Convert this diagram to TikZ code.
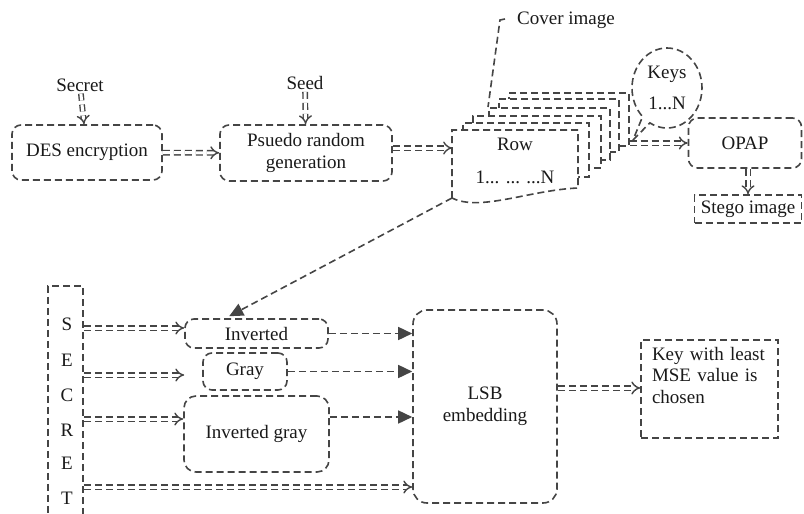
\documentclass[tikz,border=0pt]{standalone}
\usepackage{fontspec}
\setmainfont{Liberation Serif}
\usetikzlibrary{arrows.meta,shapes.callouts,calc}

\definecolor{lgray}{HTML}{454545}

\begin{document}
\begin{tikzpicture}[x=1pt,y=-1pt,
    every node/.style={font=\fontsize{19}{21.5}\selectfont, text=black!90, inner sep=2pt},
    dline/.style={draw=lgray, line width=1.6pt, dash pattern=on 7pt off 4pt},
    rbox/.style={dline, rounded corners=9pt, inner sep=0pt, align=center},
    sbox/.style={dline, inner sep=0pt, align=center},
    dbl/.style={dline, line width=1.4pt, double=white, double distance=3pt, -{Implies}},
    sarrow/.style={dline, -{Triangle[length=14pt,width=13pt]}},
    layer/.style={dline, fill=white, inner sep=0pt, anchor=north west}]
    \useasboundingbox (0,0) rectangle (804,514);
    \clip (0,0) rectangle (804,514);

    % top row
    \node (secret) at (80,85) {Secret};
    \node[rbox, minimum width=150pt, minimum height=55pt] (des) at (87,152.5) {DES encryption};
    \node (seed) at (305,83) {Seed};
    \node[rbox, minimum width=172pt, minimum height=56pt] (prng) at (306,153) {Psuedo random\\generation};
    \draw[dbl] (secret) -- (des);
    \draw[dbl] (seed) -- (prng);
    \draw[dbl] (des) -- (prng);

    % stack of rows
    \foreach \n/\l/\t/\r/\b in {5/508/92/628/145, 4/498/98/618/151, 3/488/107/609/159, 2/472/115/600/167, 1/462/122/588/176}
        \node[layer, minimum width={\r-\l}, minimum height={\b-\t}] (layer\n) at (\l,\t) {};
    \filldraw[dline, fill=white] (452,198) coordinate (rowfoot) -- (452,130) -- (578,130) -- (578,188)
        .. controls (530,190) and (480,212) .. cycle;
    \node[align=center] (row) at (515,161) {Row\\[11pt]1... ... ...N};
    \draw[dbl] (prng.east |- 0,148) -- (rowfoot |- 0,148);

    \node (cover) at (566,20) {Cover image};
    \draw[dline] ($(cover.west)+(-10,-1)$) -- ++(-5,1) -- (layer3.north west);

    \node[ellipse callout, dline, minimum width=70pt, minimum height=80pt, inner sep=0pt, align=center,
        callout absolute pointer={(633,140)}] (keys) at (667,88) {Keys\\[9pt]1...N};

    \node[rbox, minimum width=113pt, minimum height=50pt] (opap) at (745,143) {OPAP};
    \node[sbox, minimum width=107pt, minimum height=28pt] (stego) at (748,209) {Stego image};
    \draw[dbl] (layer5.east |- opap.west) -- (opap.west);
    \draw[dbl] (stego.north |- opap.south) -- (stego.north);

    % bottom part
    \node[dline, minimum width=35pt, minimum height=260pt, anchor=north, inner sep=0pt] (secretcol) at (65.5,285) {};
    \foreach \c/\y in {S/324,E/360,C/395,R/430,E/463,T/498}
        \node (ch\y) at (67,\y) {\c};

    \node[rbox, minimum width=143pt, minimum height=29pt] (inv) at (256.5,333.5) {Inverted};
    \node[rbox, minimum width=84pt, minimum height=37pt] (gray) at (245,371.5) {Gray};
    \node[rbox, minimum width=145pt, minimum height=76pt, rounded corners=12pt] (invgray) at (256.5,434) {Inverted gray};
    \node[rbox, minimum width=144pt, minimum height=193pt, rounded corners=14pt] (lsb) at (485,406.5) {LSB\\embedding};
    \node[sbox, minimum width=137pt, minimum height=98pt, text width=115pt, align=left] (key) at (709.5,389)
        {Key with least\\MSE value is\\chosen\\\strut};

    \draw[sarrow] (rowfoot) -- ($(inv.north west)+(45,-2)$);

    \draw[dbl] (secretcol.east |- 0,328) -- (inv.west |- 0,328);
    \draw[dbl] (secretcol.east |- 0,375) -- (inv.west |- 0,375);
    \draw[dbl] (secretcol.east |- 0,419) -- (invgray.west |- 0,419);
    \draw[dbl] (secretcol.east |- 0,487) -- (lsb.west |- 0,487);

    \draw[sarrow] (inv.east) -- (lsb.west |- inv.east);
    \draw[sarrow] (gray.east) -- (lsb.west |- gray.east);
    \draw[sarrow] (invgray.east |- 0,417) -- (lsb.west |- 0,417);
    \draw[dbl] (lsb.east |- 0,388) -- (key.west |- 0,388);
\end{tikzpicture}
\end{document}
